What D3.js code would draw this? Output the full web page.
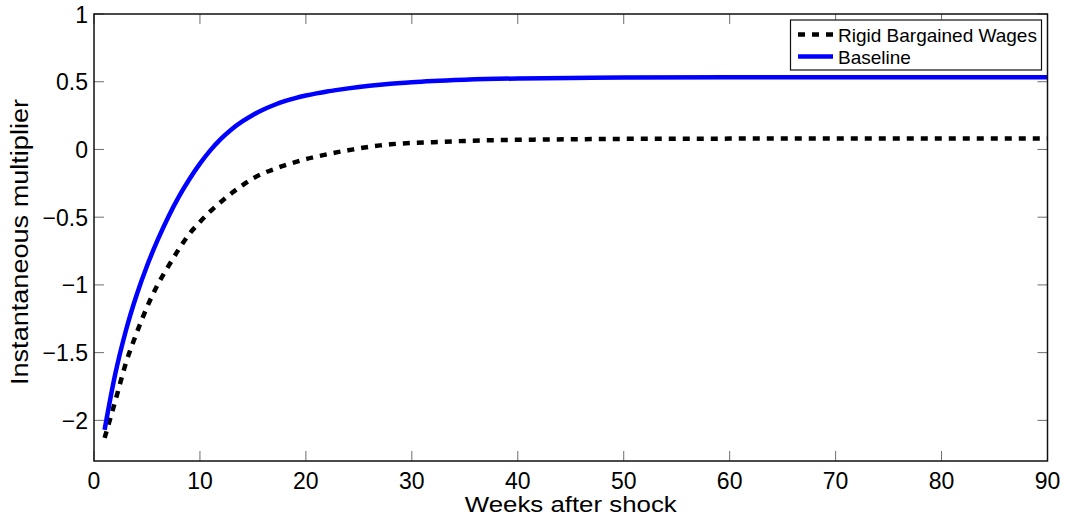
<!DOCTYPE html>
<html>
<head>
<meta charset="utf-8">
<script src="https://cdn.jsdelivr.net/npm/d3@7"></script>
<style>
  html, body { margin: 0; padding: 0; background: #fff; }
  svg { display: block; font-family: "Liberation Sans", Arial, Helvetica, sans-serif; }
</style>
</head>
<body>
<svg id="chart" width="1065" height="520"></svg>
<script>
// Weeks after the shock at which the multiplier is plotted
const weeks = [1, 2, 3, 4, 5, 6, 7, 8, 9, 10, 11, 12, 13, 14, 15, 16, 17, 18, 19, 20,
               21, 22, 23, 24, 25, 26, 27, 28, 29, 30, 32, 35, 40, 45, 50, 60, 70, 80, 90];

// Instantaneous multiplier, baseline model
const baseline = [-2.07, -1.66, -1.34, -1.08, -0.86, -0.67, -0.50, -0.35, -0.22, -0.105,
                  -0.005, 0.08, 0.15, 0.207, 0.255, 0.295, 0.328, 0.356, 0.379, 0.398,
                  0.414, 0.428, 0.440, 0.451, 0.461, 0.470, 0.478, 0.485, 0.491, 0.497,
                  0.506, 0.515, 0.524, 0.528, 0.531, 0.533, 0.533, 0.533, 0.533];

// Instantaneous multiplier with rigid bargained wages
const rigid = [-2.13, -1.86, -1.58, -1.36, -1.165, -1.00, -0.865, -0.737, -0.624, -0.535,
               -0.455, -0.386, -0.322, -0.265, -0.214, -0.175, -0.145, -0.117, -0.093, -0.071,
               -0.053, -0.036, -0.020, -0.006, 0.008, 0.020, 0.030, 0.038, 0.044, 0.048,
               0.054, 0.063, 0.071, 0.075, 0.078, 0.080, 0.081, 0.081, 0.081];

const xTicks = [0, 10, 20, 30, 40, 50, 60, 70, 80, 90];
const xTickLabels = ["0", "10", "20", "30", "40", "50", "60", "70", "80", "90"];
const yTicks = [-2, -1.5, -1, -0.5, 0, 0.5, 1];
const yTickLabels = ["\u22122", "\u22121.5", "\u22121", "\u22120.5", "0", "0.5", "1"];

const seriesNames = ["Rigid Bargained Wages", "Baseline"];

const svg = d3.select("#chart");
const plotLeft = 94, plotRight = 1047.5, plotTop = 14, plotBottom = 461;

const x = d3.scaleLinear().domain([0, 90]).range([plotLeft, plotRight]);
const y = d3.scaleLinear().domain([-2.3, 1]).range([plotBottom, plotTop]);

// Inward ticks on all four sides
const tickLen = 10;
const ticks = svg.append("g").attr("stroke", "#6e6e6e").attr("stroke-width", 1);
xTicks.forEach(t => {
  ticks.append("line").attr("x1", x(t)).attr("x2", x(t)).attr("y1", plotBottom).attr("y2", plotBottom - tickLen);
  ticks.append("line").attr("x1", x(t)).attr("x2", x(t)).attr("y1", plotTop).attr("y2", plotTop + tickLen);
});
yTicks.forEach(t => {
  ticks.append("line").attr("x1", plotLeft).attr("x2", plotLeft + tickLen).attr("y1", y(t)).attr("y2", y(t));
  ticks.append("line").attr("x1", plotRight).attr("x2", plotRight - tickLen).attr("y1", y(t)).attr("y2", y(t));
});

// Series lines
const line = d3.line().x(d => x(d[0])).y(d => y(d[1])).curve(d3.curveMonotoneX);
const rigidPts = weeks.map((w, i) => [w, rigid[i]]);
const basePts = weeks.map((w, i) => [w, baseline[i]]);

svg.append("path").datum(rigidPts)
  .attr("d", line).attr("fill", "none")
  .attr("stroke", "#000").attr("stroke-width", 4.5)
  .attr("stroke-dasharray", "7,7");

svg.append("path").datum(basePts)
  .attr("d", line).attr("fill", "none")
  .attr("stroke", "#0000ff").attr("stroke-width", 4.5);

// Axis box
svg.append("rect")
  .attr("x", plotLeft).attr("y", plotTop)
  .attr("width", plotRight - plotLeft).attr("height", plotBottom - plotTop)
  .attr("fill", "none").attr("stroke", "#111").attr("stroke-width", 1.5);

// Tick labels
const tickFont = 23;
svg.append("g").selectAll("text").data(xTicks).join("text")
  .attr("x", d => x(d)).attr("y", 489)
  .attr("text-anchor", "middle")
  .attr("font-size", tickFont).attr("fill", "#000")
  .text((d, i) => xTickLabels[i]);

svg.append("g").selectAll("text").data(yTicks).join("text")
  .attr("x", 88).attr("y", d => y(d) + 8.5)
  .attr("text-anchor", "end")
  .attr("font-size", tickFont).attr("fill", "#000")
  .text((d, i) => yTickLabels[i]);

// Axis titles
svg.append("text")
  .attr("x", (plotLeft + plotRight) / 2).attr("y", 512)
  .attr("text-anchor", "middle")
  .attr("font-size", 22).attr("fill", "#000")
  .attr("textLength", 212).attr("lengthAdjust", "spacingAndGlyphs")
  .text("Weeks after shock");

svg.append("text")
  .attr("transform", "translate(28," + 242 + ") rotate(-90)")
  .attr("text-anchor", "middle")
  .attr("font-size", 23).attr("fill", "#000")
  .attr("textLength", 286).attr("lengthAdjust", "spacingAndGlyphs")
  .text("Instantaneous multiplier");

// Legend
const legend = svg.append("g");
legend.append("rect")
  .attr("x", 790.5).attr("y", 20)
  .attr("width", 251).attr("height", 50)
  .attr("fill", "#fff").attr("stroke", "#111").attr("stroke-width", 1.2);

const legendRows = [
  { y: 34.5, stroke: "#000", dash: "7,7" },
  { y: 56.5, stroke: "#0000ff", dash: null }
];
legendRows.forEach((r, i) => {
  const l = legend.append("line")
    .attr("x1", 798).attr("x2", 833)
    .attr("y1", r.y).attr("y2", r.y)
    .attr("stroke", r.stroke).attr("stroke-width", 4.5);
  if (r.dash) l.attr("stroke-dasharray", r.dash);
  legend.append("text")
    .attr("x", 838).attr("y", r.y + 7)
    .attr("font-size", 19).attr("fill", "#000")
    .text(seriesNames[i]);
});
</script>
</body>
</html>
